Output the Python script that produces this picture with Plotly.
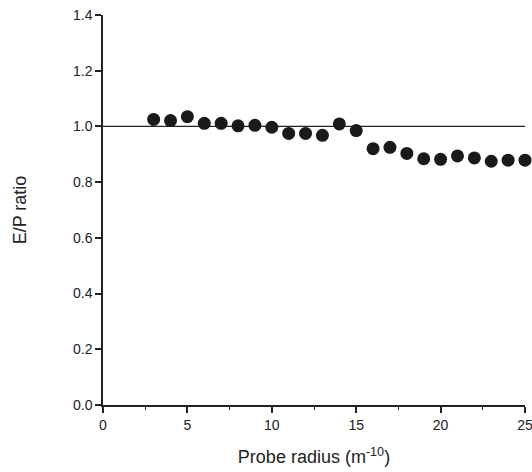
import plotly.graph_objects as go

probe_radius = [3, 4, 5, 6, 7, 8, 9, 10, 11, 12, 13, 14, 15, 16, 17, 18, 19, 20, 21, 22, 23, 24, 25]
ep_ratio = [1.025, 1.021, 1.035, 1.011, 1.011, 1.002, 1.004, 0.997, 0.975, 0.975, 0.968, 1.009, 0.985,
            0.920, 0.925, 0.903, 0.884, 0.882, 0.894, 0.887, 0.875, 0.879, 0.879]
ref_x = [0, 25]
ref_y = [1.0, 1.0]
x_ticks = [0, 5, 10, 15, 20, 25]
y_ticks = [0.0, 0.2, 0.4, 0.6, 0.8, 1.0, 1.2, 1.4]

fig = go.Figure()
fig.add_trace(go.Scatter(x=ref_x, y=ref_y, mode="lines",
                         line=dict(color="#222222", width=1.2), showlegend=False, hoverinfo="skip"))
fig.add_trace(go.Scatter(x=probe_radius, y=ep_ratio, mode="markers",
                         marker=dict(color="#1a1a1a", size=13, line=dict(width=0)),
                         showlegend=False, cliponaxis=False))

font = "Liberation Sans, Arial, Helvetica, sans-serif"
fig.update_layout(
    width=532, height=472,
    margin=dict(l=103, r=7, t=15, b=67, autoexpand=False),
    paper_bgcolor="white", plot_bgcolor="white",
    font=dict(family=font, color="#222222"),
    xaxis=dict(range=[0, 25], tickvals=x_ticks, ticktext=[str(v) for v in x_ticks],
               showgrid=False, zeroline=False, showline=True, linecolor="#222222", linewidth=1.5,
               ticks="outside", ticklen=6, tickwidth=1.5, tickcolor="#222222",
               tickfont=dict(size=14, family=font), ticklabeloverflow="allow", automargin=False,
               minor=dict(dtick=2.5, tick0=0, ticks="outside", ticklen=3, tickwidth=1.2, tickcolor="#222222", showgrid=False),
               title=dict(text="Probe radius (m<sup>-10</sup>)", font=dict(size=18, family=font), standoff=19)),
    yaxis=dict(range=[0, 1.4], tickvals=y_ticks, ticktext=[f"{v:.1f}" for v in y_ticks],
               showgrid=False, zeroline=False, showline=True, linecolor="#222222", linewidth=1.5,
               ticks="outside", ticklen=6, tickwidth=1.5, tickcolor="#222222",
               tickfont=dict(size=14, family=font), automargin=False,
               title=dict(text="E/P ratio", font=dict(size=18, family=font), standoff=42)),
)

fig.write_html("out.html", config={"displayModeBar": False},
               post_script="document.body.style.margin='0';document.body.style.padding='0';")
